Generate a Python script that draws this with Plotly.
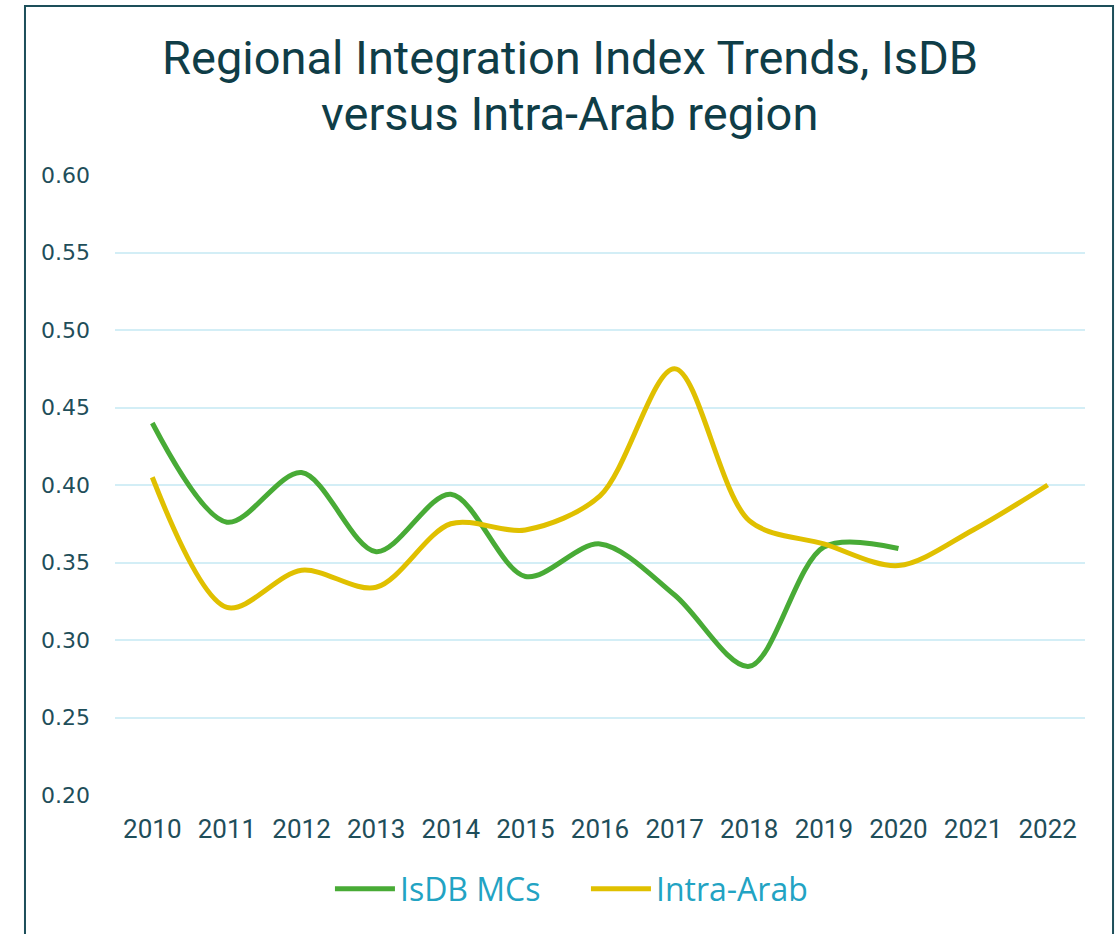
import plotly.graph_objects as go

years = [2010, 2011, 2012, 2013, 2014, 2015, 2016, 2017, 2018, 2019, 2020, 2021, 2022]
isdb_mcs = [0.440, 0.376, 0.408, 0.357, 0.394, 0.341, 0.362, 0.329, 0.283, 0.360, 0.359]
intra_arab = [0.405, 0.321, 0.345, 0.334, 0.375, 0.371, 0.393, 0.475, 0.377, 0.362, 0.348, 0.371, 0.400]
y_ticks = [0.20, 0.25, 0.30, 0.35, 0.40, 0.45, 0.50, 0.55, 0.60]

title_lines = ["Regional Integration Index Trends, IsDB", "versus Intra-Arab region"]

fig = go.Figure()
fig.add_trace(go.Scatter(
    x=years[:len(isdb_mcs)], y=isdb_mcs, name="IsDB MCs", mode="lines",
    line=dict(color="#48ab36", width=5, shape="spline", smoothing=0.9),
))
fig.add_trace(go.Scatter(
    x=years, y=intra_arab, name="Intra-Arab", mode="lines",
    line=dict(color="#e0c000", width=5, shape="spline", smoothing=0.9),
))

title_font = dict(family="Roboto", size=47, color="#0f3d47")
annotations = [
    dict(text=title_lines[0], xref="paper", yref="paper", x=0.469, y=1.1903,
         xanchor="center", yanchor="middle", showarrow=False, font=title_font),
    dict(text=title_lines[1], xref="paper", yref="paper", x=0.469, y=1.0984,
         xanchor="center", yanchor="middle", showarrow=False, font=title_font),
]

fig.update_layout(
    width=1120, height=934,
    margin=dict(l=115, r=35, t=175, b=139),
    paper_bgcolor="white", plot_bgcolor="white",
    annotations=annotations,
    showlegend=True,
    legend=dict(orientation="h", x=0.2216, xanchor="left", y=-0.1516, yanchor="middle",
                font=dict(family="Open Sans", size=32, color="#22a3c3"),
                itemwidth=60, entrywidth=181, entrywidthmode="pixels",
                bgcolor="rgba(0,0,0,0)"),
    shapes=[dict(type="rect", xref="paper", yref="paper",
                 x0=-0.0928, x1=1.0289, y0=-0.35, y1=1.2726,
                 line=dict(color="#1d4f5a", width=2), fillcolor="rgba(0,0,0,0)", layer="below")],
)

fig.update_xaxes(
    range=[2009.5, 2022.5], tickmode="array", tickvals=years,
    ticktext=[str(y) for y in years],
    showgrid=False, zeroline=False, showline=False, ticks="",
    tickfont=dict(family="Roboto", size=26, color="#1f4e5a"),
    ticklabelstandoff=16,
)
fig.update_yaxes(
    range=[0.2, 0.6], tickmode="array", tickvals=y_ticks,
    ticktext=[f"{v:.2f}" for v in y_ticks],
    showgrid=True, gridcolor="#d3eef6", gridwidth=2, zeroline=False, showline=False, ticks="",
    tickfont=dict(family="DejaVu Sans", size=22, color="#1f4e5a"),
    ticklabelstandoff=24,
)

fig.write_html("out.html", config={"displayModeBar": False},
               post_script="document.body.style.margin='0';document.body.style.overflow='hidden';")
